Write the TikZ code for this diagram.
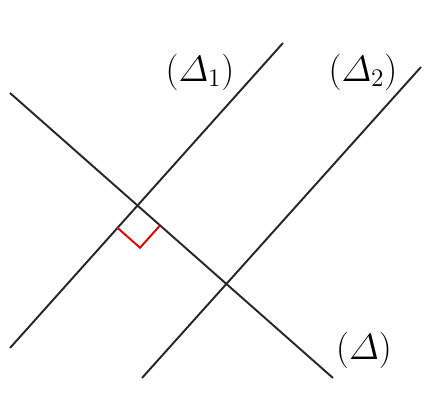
\documentclass[tikz,border=0pt]{standalone}
\usepackage{amsmath,amssymb}
\usepackage{tikz}
\usetikzlibrary{calc}

\begin{document}
\begin{tikzpicture}[
  x=0.02cm,y=-0.02cm,
  droite/.style={line width=1.1pt,black!85},
  lbl/.style={font=\fontsize{21}{24}\selectfont,inner sep=0pt},
  angdroit/.style={line width=1.1pt,red!90!black}
]
  \useasboundingbox (0,0) rectangle (434,403);
  % extremites des droites
  \coordinate (da) at (10,93);
  \coordinate (db) at (333,378);
  \coordinate (ua) at (10,348);
  \coordinate (ub) at (283,43);
  \coordinate (va) at (142,378);
  \coordinate (vb) at (421,67);
  \draw[droite] (da)--(db);
  \draw[droite] (ua)--(ub);
  \draw[droite] (va)--(vb);
  % angle droit
  \coordinate (I) at (intersection of da--db and ua--ub);
  \coordinate (p1) at ($(I)!0.6cm!(ua)$);
  \coordinate (p2) at ($(I)!0.6cm!(db)$);
  \draw[angdroit] (p1)--($(p1)+(p2)-(I)$)--(p2);
  \node[lbl] (ld1) at (200,72) {$(\varDelta_1)$};
  \node[lbl] (ld2) at (363,72) {$(\varDelta_2)$};
  \node[lbl] (ld) at (364,350) {$(\varDelta)$};
\end{tikzpicture}
\end{document}
